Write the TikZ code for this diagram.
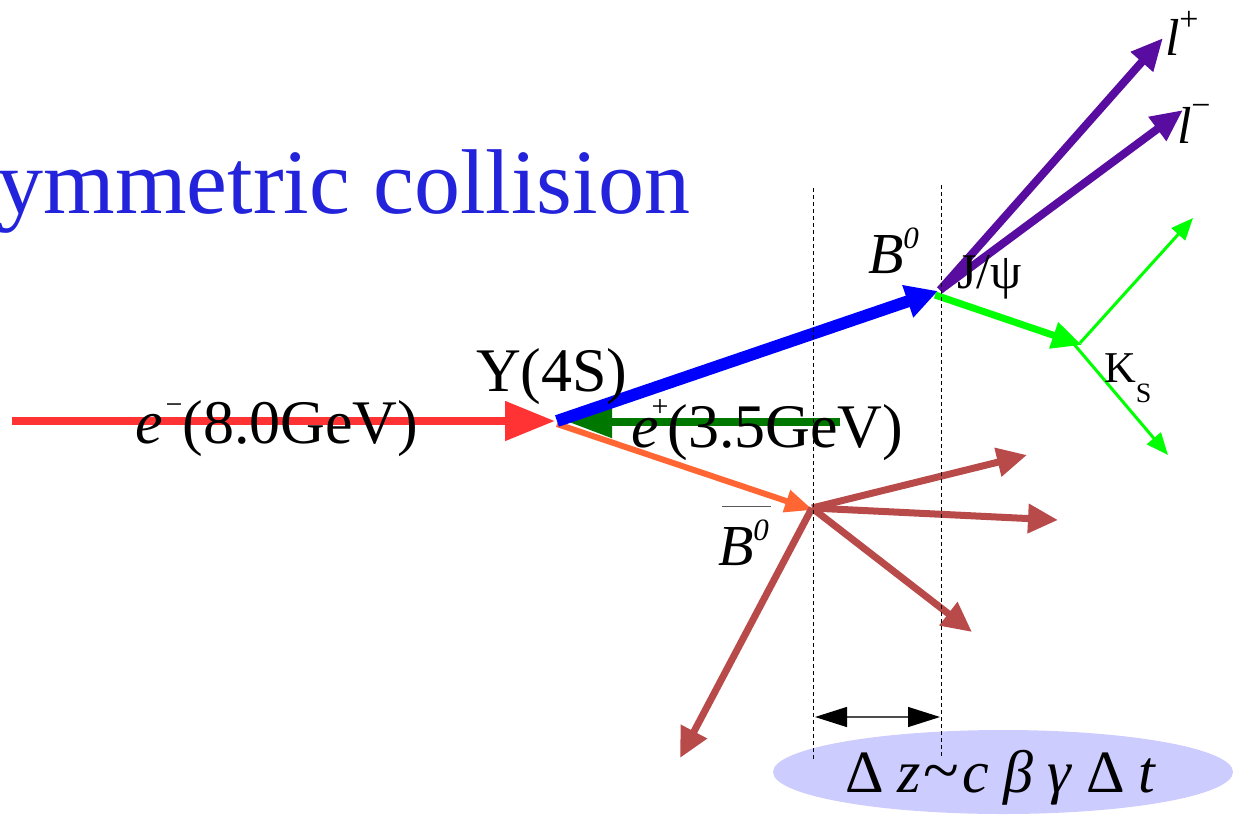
\documentclass[tikz,border=0pt]{standalone}
\usepackage{fontspec}
\setmainfont{Liberation Serif}
\usetikzlibrary{arrows.meta}
\definecolor{titleblue}{RGB}{35,35,220}
\definecolor{ered}{RGB}{255,51,51}
\definecolor{bblue}{RGB}{0,0,255}
\definecolor{pgreen}{RGB}{0,120,0}
\definecolor{borange}{RGB}{255,102,51}
\definecolor{lpurple}{RGB}{88,12,160}
\definecolor{kgreen}{RGB}{0,255,0}
\definecolor{brown}{RGB}{184,74,74}
\definecolor{ellfill}{RGB}{204,204,255}
\newcommand\setsz[1]{\fontsize{#1}{#1}\selectfont}
\begin{document}
\begin{tikzpicture}[x=1pt,y=-1pt,
  lbl/.style={inner sep=0pt, outer sep=0pt, anchor=base west},
  beam/.style={line width=8pt, -{Triangle[length=50pt,width=38pt]}},
  bline/.style={line width=12pt, -{Triangle[length=32pt,width=32pt]}},
  posline/.style={line width=8pt, -{Triangle[length=44pt,width=30pt]}},
  obline/.style={line width=6pt, -{Triangle[length=28pt,width=22pt]}},
  lepline/.style={line width=8pt, -{Triangle[length=32pt,width=28pt]}},
  ksline/.style={line width=7pt, -{Triangle[length=30pt,width=26pt]}},
  pionline/.style={line width=3pt, -{Triangle[length=22pt,width=18pt]}},
  decline/.style={line width=7pt, color=brown, -{Triangle[length=30pt,width=28pt]}},
  vdash/.style={line width=0.8pt, dash pattern=on 4pt off 3pt},
]
\clip (0,0) rectangle (1233,814);

% ellipse
\fill[ellfill] (1003,772) ellipse [x radius=230, y radius=42];

% coordinates
\coordinate (estart) at (12,421);
\coordinate (ip) at (555,421);
\coordinate (ipb) at (557,421);
\coordinate (pstart) at (840,422);
\coordinate (ptip) at (568,422);
\coordinate (ipo) at (557,424);
\coordinate (bvtx) at (938,291);
\coordinate (bbvtx) at (813,510);
\coordinate (jvtx) at (940,290);
\coordinate (lptip) at (1163,38);
\coordinate (lmtip) at (1183,110);
\coordinate (kstart) at (935,295);
\coordinate (kvtx) at (1082,345);
\coordinate (kvtxa) at (1080,343);
\coordinate (kvtxb) at (1073,343);
\coordinate (pi1) at (1193,218);
\coordinate (pi2) at (1168,455);
\coordinate (dorig) at (812,508);
\coordinate (d1) at (1027,455);
\coordinate (d2) at (1058,520);
\coordinate (d3) at (972,632);
\coordinate (d4) at (680,758);
\coordinate (da) at (815,717);
\coordinate (db) at (940,717);
\coordinate (v1t) at (813,188);
\coordinate (v1b) at (813,760);
\coordinate (v2t) at (941,185);
\coordinate (v2b) at (941,757);

% beams
\draw[beam, ered] (estart) -- (ip);
\draw[posline, pgreen] (pstart) -- (ptip);
\draw[obline, borange] (ipo) -- (bbvtx);
\draw[bline, bblue] (ipb) -- (bvtx);

% B0 decay
\draw[lepline, lpurple] (jvtx) -- (lptip);
\draw[lepline, lpurple] (jvtx) -- (lmtip);
\draw[ksline, kgreen] (kstart) -- (kvtx);
\draw[pionline, kgreen] (kvtxa) -- (pi1);
\draw[pionline, kgreen] (kvtxb) -- (pi2);

% B0bar decay
\draw[decline] (dorig) -- (d1);
\draw[decline] (dorig) -- (d2);
\draw[decline] (dorig) -- (d3);
\draw[decline] (dorig) -- (d4);

% dashed verticals
\draw[vdash] (v1t) -- (v1b);
\draw[vdash] (v2t) -- (v2b);

% delta z arrow
\draw[line width=1.2pt, gray!60!black,
  {Triangle[length=32pt,width=20pt,color=black]}-{Triangle[length=32pt,width=20pt,color=black]}] (da) -- (db);

% labels
\node[lbl, anchor=base east, text=titleblue, font=\setsz{92}] (title) at (690,213) {ymmetric collision};
\node[lbl, font=\setsz{62}] (em) at (135,443) {\textit{e}\kern3pt\raisebox{29pt}{\setsz{30}\char"2212}\kern0pt(8.0GeV)};
\node[lbl, font=\setsz{62}] (ups) at (476,391) {Y(4S)};
\node[lbl, font=\setsz{62}] (ep) at (631,447) {\textit{e}\kern-7pt\raisebox{31pt}{\setsz{30}+}\kern-1pt(3.5GeV)};
\node[lbl, font=\setsz{58}] (b0) at (868,273) {\textit{B}\raisebox{25pt}{\setsz{31}\textit{0}}};
\node[lbl, font=\setsz{58}] (b0bar) at (718,565) {\textit{B}\raisebox{25pt}{\setsz{31}\textit{0}}};
\draw[line width=1.5pt, black!65] ([xshift=4pt,yshift=13pt]b0bar.north west) -- ([xshift=2pt,yshift=13pt]b0bar.north east);
\node[lbl, font=\setsz{50}] (jpsi) at (957,288) {J/ψ};
\node[lbl, font=\setsz{44}] (ks) at (1104,382) {K\raisebox{-20pt}{\setsz{28}S}};
\node[lbl, font=\setsz{52}] (lp) at (1165,55) {\textit{l}\raisebox{25pt}{\setsz{34}+}};
\node[lbl, font=\setsz{52}] (lm) at (1177,143) {\textit{l}\raisebox{27pt}{\setsz{34}\char"2212}};
\node[lbl, font=\setsz{60}] (dz) at (845,792) {Δ\hspace{14pt}\textit{z}\kern3pt{\setsz{66}\textasciitilde}\kern3pt\textit{c}\hspace{14pt}\textit{β}\hspace{14pt}\textit{γ}\hspace{14pt}Δ\hspace{14pt}\textit{t}};
\end{tikzpicture}
\end{document}
